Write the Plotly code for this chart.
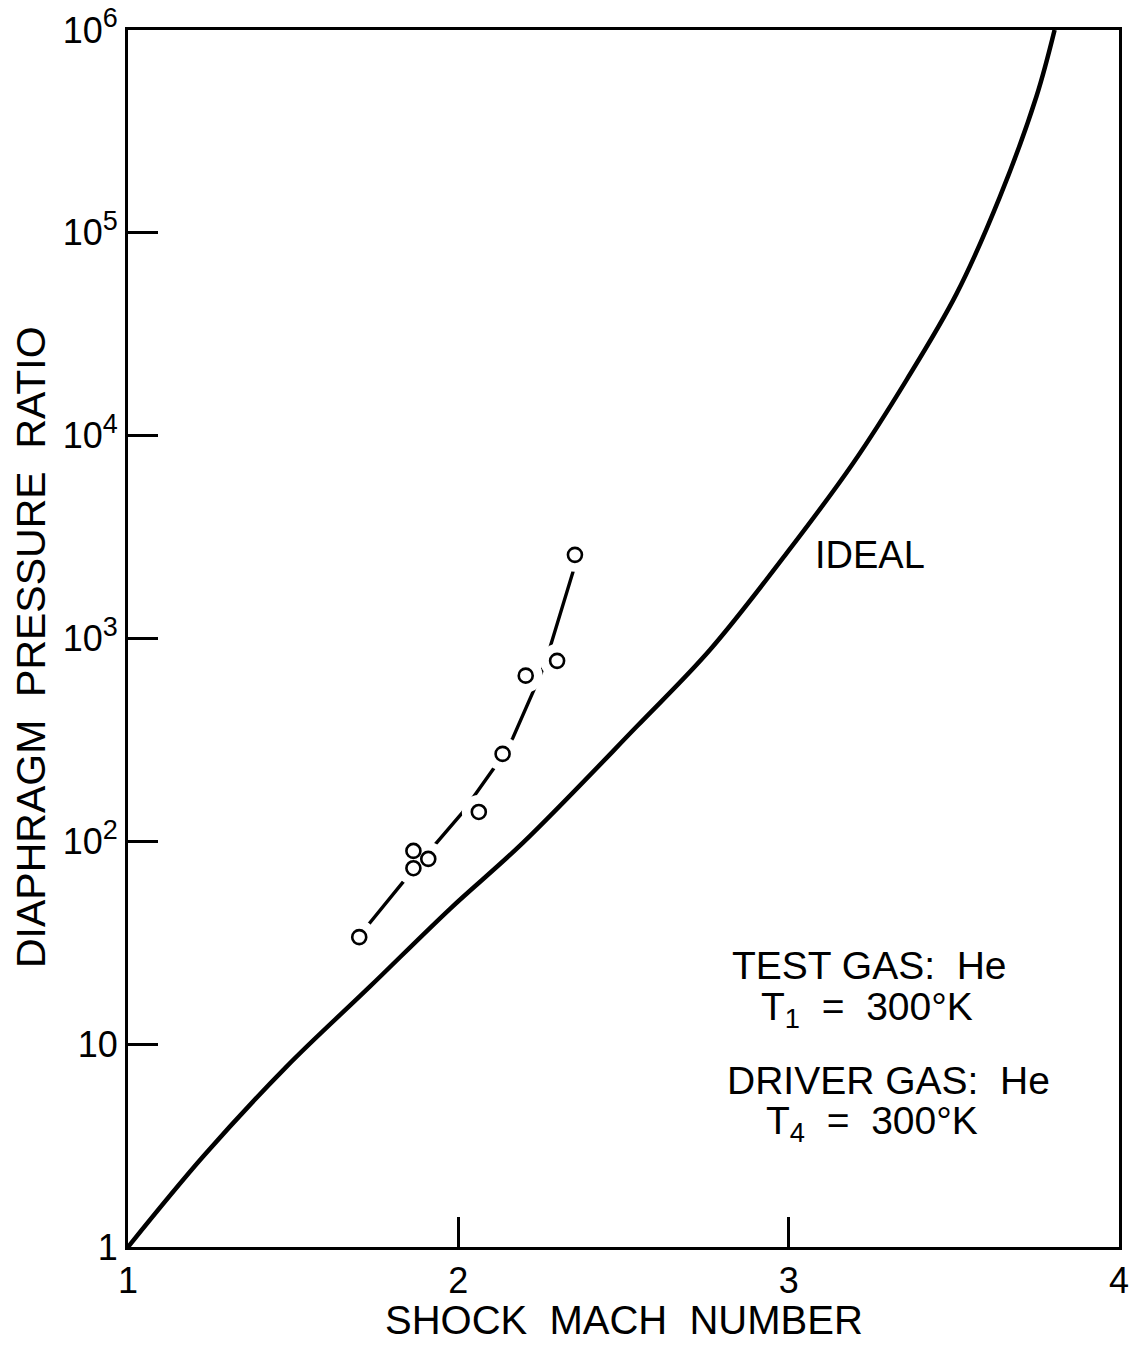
import plotly.graph_objects as go

# Ideal shock-tube curve: shock Mach number vs. diaphragm pressure ratio p4/p1
ideal_mach = [1.0, 1.228, 1.480, 1.732, 1.975, 2.196, 2.540, 2.762, 2.994,
              3.195, 3.357, 3.508, 3.639, 3.750, 3.805]
ideal_ratio = [1.0, 2.8, 7.75, 19.2, 46.5, 98.5, 368, 880, 2634,
               7315, 18850, 50000, 150000, 470000, 1000000]

# Measured runs (He into He, 300 K)
meas_mach = [1.700, 1.864, 1.864, 1.909, 2.062, 2.134, 2.204, 2.299, 2.353]
meas_ratio = [33.7, 89.7, 73.7, 81.9, 139.6, 269.8, 656, 775.7, 2584]

# Faired curve through the measured runs
fair_mach = [1.700, 1.717, 1.838, 1.935, 2.011, 2.108, 2.165, 2.250, 2.277, 2.347, 2.353]
fair_ratio = [33.7, 37.0, 64.5, 99.1, 137.7, 230, 323, 669, 899, 2130, 2584]

x_ticks = [1, 2, 3, 4]
x_tick_text = ["1", "2", "3", "4"]
y_ticks = [1, 10, 100, 1000, 1e4, 1e5, 1e6]
y_exponents = ["2", "3", "4", "5", "6"]
y_tick_text = ["1", "10"] + [
    "10<sup><span style='font-size:27px'>%s</span></sup>" % e for e in y_exponents
]

FONT = "Liberation Sans"
INK = "black"

fig = go.Figure()

fig.add_trace(go.Scatter(
    x=ideal_mach, y=ideal_ratio, mode="lines",
    line=dict(color=INK, width=4.5, shape="spline", smoothing=1.0),
    hoverinfo="skip", showlegend=False))

fig.add_trace(go.Scatter(
    x=fair_mach, y=fair_ratio, mode="lines",
    line=dict(color=INK, width=3.4),
    hoverinfo="skip", showlegend=False))

# white clearance around each symbol so the faired line breaks at the points
fig.add_trace(go.Scatter(
    x=meas_mach, y=meas_ratio, mode="markers",
    marker=dict(symbol="circle", size=34, color="white", line=dict(width=0)),
    hoverinfo="skip", showlegend=False))

fig.add_trace(go.Scatter(
    x=meas_mach, y=meas_ratio, mode="markers",
    marker=dict(symbol="circle-open", size=14, color=INK, line=dict(width=2.6, color=INK)),
    showlegend=False))

axis_common = dict(
    showline=True, linewidth=3, linecolor=INK, mirror=True,
    showgrid=False, zeroline=False, automargin=False,
    ticks="inside", ticklen=30, tickwidth=2.5, tickcolor=INK,
)

fig.update_xaxes(
    range=[1, 4], tickvals=x_ticks, ticktext=x_tick_text,
    tickfont=dict(family=FONT, size=36, color=INK), **axis_common)
fig.update_yaxes(
    type="log", range=[0, 6], tickvals=y_ticks, ticktext=y_tick_text,
    tickfont=dict(family=FONT, size=36, color=INK), **axis_common)

text_font = dict(family=FONT, size=39, color=INK)
annotations = [
    dict(text="SHOCK  MACH  NUMBER", xref="paper", yref="paper", x=0.5, y=0,
         yshift=-73, xanchor="center", yanchor="middle",
         font=dict(family=FONT, size=40, color=INK), showarrow=False),
    dict(text="DIAPHRAGM  PRESSURE  RATIO", xref="paper", yref="paper", x=0, y=0.493,
         xshift=-97, xanchor="center", yanchor="middle", textangle=-90,
         font=dict(family=FONT, size=41, color=INK), showarrow=False),
    dict(text="IDEAL", x=3.073, y=3.412, xref="x", yref="y", xanchor="left",
         yanchor="middle", font=dict(family=FONT, size=38, color=INK), showarrow=False),
    dict(text="TEST GAS:  He", x=3.246, y=(1247 - 966) / 202.8, xref="x", yref="y",
         xanchor="center", yanchor="middle", font=text_font, showarrow=False),
    dict(text="T<sub>1</sub>  =  300°K", x=3.237, y=(1247 - 1010) / 202.8, xref="x", yref="y",
         xanchor="center", yanchor="middle", font=text_font, showarrow=False),
    dict(text="DRIVER GAS:  He", x=3.303, y=(1247 - 1081) / 202.8, xref="x", yref="y",
         xanchor="center", yanchor="middle", font=text_font, showarrow=False),
    dict(text="T<sub>4</sub>  =  300°K", x=3.252, y=(1247 - 1124) / 202.8, xref="x", yref="y",
         xanchor="center", yanchor="middle", font=text_font, showarrow=False),
]

fig.update_layout(
    width=1137, height=1348,
    margin=dict(l=128, r=18, t=30, b=101, pad=0),
    paper_bgcolor="white", plot_bgcolor="white",
    font=dict(family=FONT, color=INK),
    annotations=annotations,
    showlegend=False,
)

fig.write_html("out.html")
